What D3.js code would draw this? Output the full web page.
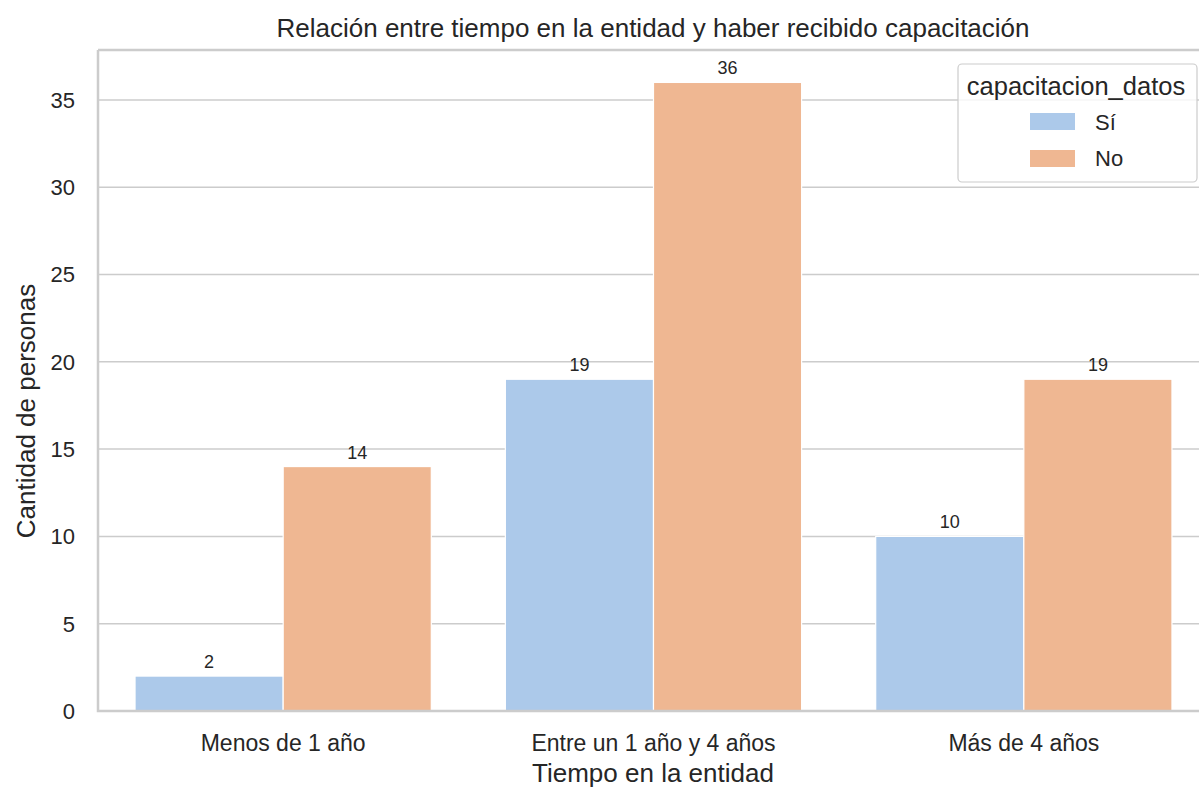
<!DOCTYPE html>
<html><head><meta charset="utf-8">
<script src="https://cdn.jsdelivr.net/npm/d3@7"></script>
<style>body{margin:0;background:#fff}text{font-family:"Liberation Sans",Arial,sans-serif;fill:#262626}</style>
</head><body><svg id="c" width="1199" height="788"></svg>
<script>
const categories = ["Menos de 1 año", "Entre un 1 año y 4 años", "Más de 4 años"];
const seriesNames = ["Sí", "No"];
const valuesSi = [2, 19, 10];
const valuesNo = [14, 36, 19];
const yTicks = [0, 5, 10, 15, 20, 25, 30, 35];
const colors = ["#acc9ea", "#efb792"];

const svg = d3.select("#c");
const m = {l: 98, r: 1209, t: 50, b: 711};
const x = d3.scaleBand().domain(categories).range([m.l, m.r]).paddingInner(0).paddingOuter(0);
const inner = d3.scaleBand().domain(seriesNames).range([0, x.bandwidth()*0.8]);
const y = d3.scaleLinear().domain([0, 37.8]).range([m.b, m.t + 1]);

// grid
svg.append("g").selectAll("line").data(yTicks).join("line")
  .attr("x1", m.l).attr("x2", m.r).attr("y1", d=>y(d)).attr("y2", d=>y(d))
  .attr("stroke", "#cccccc").attr("stroke-width", 1.5);

const data = [];
categories.forEach((c,i)=>{
  data.push({c, s: "Sí", v: valuesSi[i], col: colors[0]});
  data.push({c, s: "No", v: valuesNo[i], col: colors[1]});
});
const bx = d => x(d.c) + x.bandwidth()*0.1 + inner(d.s);
svg.append("g").selectAll("rect").data(data).join("rect")
  .attr("x", bx).attr("width", inner.bandwidth())
  .attr("y", d=>y(d.v)).attr("height", d=>y(0)-y(d.v))
  .attr("fill", d=>d.col).attr("stroke", "#fff").attr("stroke-width", 1.2);
svg.append("g").selectAll("text").data(data).join("text")
  .attr("x", d=>bx(d)+inner.bandwidth()/2).attr("y", d=>y(d.v)-8)
  .attr("text-anchor","middle").attr("font-size", 18).text(d=>d.v);

// spines
svg.append("path").attr("d", `M${m.l},${m.t}H${m.r}M${m.l},${m.t}V${m.b}H${m.r}`)
  .attr("fill","none").attr("stroke","#cccccc").attr("stroke-width",2.5);

// y ticks
svg.append("g").selectAll("text").data(yTicks).join("text")
  .attr("x", 75).attr("y", d=>y(d)).attr("dy","0.36em").attr("text-anchor","end")
  .attr("font-size", 22).text(d=>d);
// x ticks
svg.append("g").selectAll("text").data(categories).join("text")
  .attr("x", d=>x(d)+x.bandwidth()/2).attr("y", 743).attr("dy","0.36em").attr("text-anchor","middle")
  .attr("font-size", 23).text(d=>d);

svg.append("text").attr("x", 653).attr("y", 773).attr("dy","0.36em").attr("text-anchor","middle")
  .attr("font-size", 26).text("Tiempo en la entidad");
svg.append("text").attr("transform","translate(26,411) rotate(-90)").attr("dy","0.36em").attr("text-anchor","middle")
  .attr("font-size", 26).text("Cantidad de personas");
svg.append("text").attr("x", 653).attr("y", 28).attr("dy","0.36em").attr("text-anchor","middle")
  .attr("font-size", 26).text("Relación entre tiempo en la entidad y haber recibido capacitación");

// legend
const lg = svg.append("g");
lg.append("rect").attr("x", 958).attr("y", 64).attr("width", 239).attr("height", 118).attr("rx", 4)
  .attr("fill","#fff").attr("fill-opacity",0.8).attr("stroke","#cccccc").attr("stroke-width",1.2);
lg.append("text").attr("x", 1076).attr("y", 86).attr("dy","0.36em").attr("text-anchor","middle")
  .attr("font-size", 25.5).text("capacitacion_datos");
seriesNames.forEach((s,i)=>{
  lg.append("rect").attr("x", 1030).attr("y", 113+i*37).attr("width", 45).attr("height", 17).attr("fill", colors[i]);
  lg.append("text").attr("x", 1095).attr("y", 122+i*36).attr("dy","0.36em").attr("font-size", 22).text(s);
});
</script></body></html>
